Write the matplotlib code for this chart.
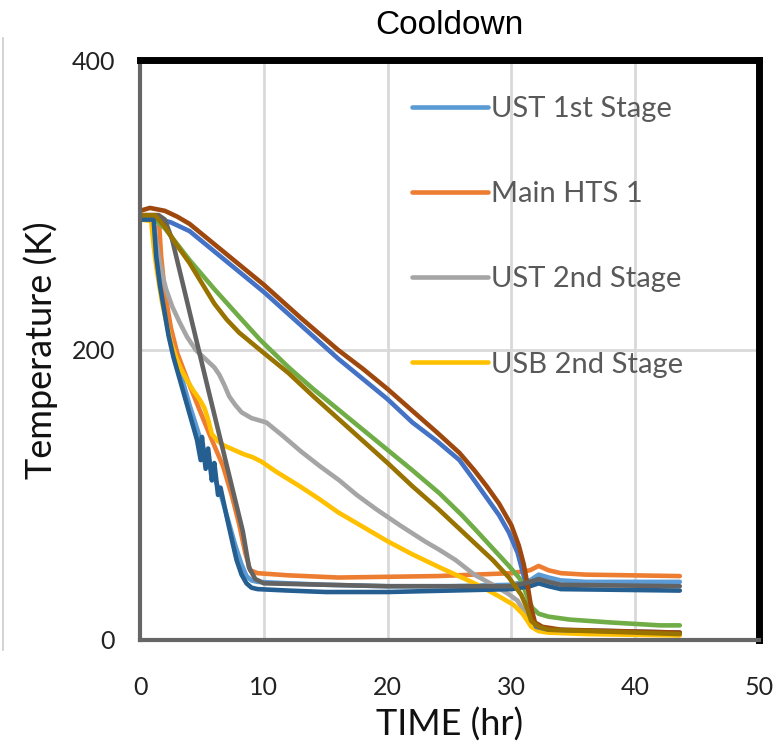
import matplotlib
matplotlib.use("Agg")
import matplotlib.pyplot as plt
from matplotlib.lines import Line2D

# time (hr) / temperature (K)
ust1_t = [0, 1.0, 1.3, 1.6, 2.0, 2.4, 2.9, 3.4, 4.0, 4.6, 5.1, 5.6, 6.1, 6.6, 7.2, 7.7, 8.2, 8.6, 9.0, 9.5, 12, 15, 20, 25, 30, 31.5, 32.2, 33.0, 34, 36, 43.6]
ust1_T = [290, 290, 268, 248, 228, 212, 195, 180, 162, 146, 132, 120, 110, 98, 80, 65, 52, 44, 41, 40, 39, 38, 37, 37, 38, 41, 45, 43, 41, 40, 40]

hts1_t = [0, 1.5, 1.7, 2.0, 2.5, 3.0, 3.8, 4.6, 5.6, 6.7, 7.4, 8.0, 8.5, 8.9, 9.5, 12, 16, 24, 30, 31.5, 32.2, 33, 34, 36, 43.6]
hts1_T = [293, 293, 265, 240, 215, 198, 180, 163, 142, 120, 100, 80, 60, 48, 46, 44.5, 43, 44, 46, 48, 51, 48, 46, 45, 44]

ust2_t = [0, 1.1, 1.3, 1.5, 1.8, 2.1, 2.6, 3.2, 3.8, 4.5, 5.0, 5.5, 6.0, 6.4, 6.8, 7.2, 7.7, 8.2, 9.0, 10.2, 11.5, 13, 14.5, 16.1, 17.5, 19.1, 21, 23, 24.2, 25.5, 27, 28.5, 29.7, 30.5, 31, 31.5, 32, 33, 35, 43.6]
ust2_T = [292, 290, 276, 265, 252, 242, 230, 219, 209, 200, 196, 192, 188, 183, 176, 168, 162, 157, 153, 150, 141, 130, 120, 110, 100, 90, 79, 68, 62, 55, 45, 38, 32, 27, 20, 14, 9, 6, 5.5, 5]

usb2_t = [0, 0.9, 1.1, 1.3, 1.6, 1.8, 2.2, 2.5, 3.0, 3.3, 3.8, 4.3, 4.8, 5.2, 5.5, 5.8, 6.3, 6.8, 7.6, 8.4, 9.1, 9.8, 11, 12.9, 14.5, 16, 18, 20, 22, 24.2, 26, 27.5, 29, 30.2, 30.9, 31.3, 31.6, 32.2, 33, 36, 43.6]
usb2_T = [290, 289, 272, 258, 242, 232, 216, 205, 193, 187, 179, 172, 166, 160, 152, 142, 137, 134, 131, 128, 126, 123, 116, 106, 97, 88, 78, 68, 59, 50, 43, 37, 30, 24, 18, 13, 9, 6, 5, 4, 3]

s5_t = [0, 1.2, 2.5, 4, 6, 8, 10, 13, 16, 18, 20, 22, 24, 25.8, 27, 28, 29, 29.8, 30.5, 31.0, 31.3, 31.6, 32, 33, 43.6]
s5_T = [291, 291, 288, 282, 268, 254, 240, 217, 194, 180, 166, 150, 137, 124, 110, 98, 86, 74, 60, 44, 30, 16, 9, 7, 5]

s6_t = [0, 1.2, 2, 3, 4, 6, 8, 9.7, 12, 14, 17, 20, 22, 24.2, 26, 27.1, 28.5, 29.8, 30.7, 31.1, 31.4, 31.7, 32.2, 33, 34.7, 38, 42, 43.6]
s6_T = [290, 290, 284, 273, 262, 242, 223, 207, 188, 173, 152, 131, 117, 101, 86, 76, 63, 51, 42, 34, 27, 22, 18, 16, 14, 12, 10, 10]

s7_t = [0, 1.1, 1.3, 1.6, 2.0, 2.3, 2.7, 3.2, 3.7, 4.2, 4.6, 4.9, 5.0, 5.3, 5.5, 5.8, 6.0, 6.3, 6.5, 7.0, 7.5, 7.8, 8.2, 8.6, 9.0, 9.5, 12, 15, 20, 25, 30, 31.5, 32.2, 33, 34, 43.6]
s7_T = [290, 290, 265, 245, 225, 210, 195, 180, 165, 150, 138, 124, 140, 118, 132, 110, 122, 100, 105, 85, 66, 55, 45, 39, 36, 35, 34, 33, 33, 34, 35, 37, 39, 37, 35, 34]

s8_t = [0, 0.8, 2, 3, 4, 6, 8, 10, 13, 16, 18, 20, 22, 24, 25.8, 27, 28, 29, 30, 30.6, 31, 31.3, 31.6, 31.9, 32.5, 34, 43.6]
s8_T = [296, 298, 296, 292, 287, 273, 259, 245, 222, 200, 187, 173, 158, 143, 129, 117, 106, 94, 79, 65, 52, 38, 22, 12, 9, 7, 5]

s9_t = [0, 1.5, 2.0, 2.6, 5.5, 8.3, 8.8, 9.3, 10, 20, 30, 31.5, 32.2, 33, 34, 43.6]
s9_T = [293, 293, 290, 276, 173, 75, 50, 42, 39, 37, 37, 40, 42, 40, 38, 37]

s10_t = [0, 1.2, 2, 3, 4, 5, 6, 7, 8, 9.7, 12, 14, 17, 20, 22, 24, 26, 28.5, 29.8, 30.8, 31.3, 31.6, 32.2, 33, 43.6]
s10_T = [293, 293, 285, 272, 260, 246, 232, 221, 212, 200, 184, 168, 145, 122, 106, 91, 75, 55, 43, 31, 21, 13, 9, 7, 4]

series = [
    (ust1_t, ust1_T, "UST 1st Stage", "#5B9BD5"),
    (hts1_t, hts1_T, "Main HTS 1", "#ED7D31"),
    (ust2_t, ust2_T, "UST 2nd Stage", "#A5A5A5"),
    (usb2_t, usb2_T, "USB 2nd Stage", "#FFC000"),
    (s5_t, s5_T, None, "#4472C4"),
    (s6_t, s6_T, None, "#70AD47"),
    (s7_t, s7_T, None, "#255E91"),
    (s8_t, s8_T, None, "#9E480E"),
    (s9_t, s9_T, None, "#636363"),
    (s10_t, s10_T, None, "#997300"),
]

plt.rcParams["font.family"] = ["Lato", "DejaVu Sans"]

fig = plt.figure(figsize=(7.78, 7.51), dpi=100)
ax = fig.add_axes([0.18, 0.148, 0.7956, 0.772])

handles = []
for t, T, name, col in series:
    ln, = ax.plot(t, T, color=col, lw=3.3, solid_capstyle="round", solid_joinstyle="round")
    if name:
        ln.set_label(name)
        handles.append(ln)

ax.set_xlim(0, 50)
ax.set_ylim(0, 400)
ax.set_xticks([0, 10, 20, 30, 40, 50])
ax.set_yticks([0, 200, 400])
ax.tick_params(length=0, labelsize=18, labelcolor="#222222")
ax.tick_params(axis="x", pad=26)
ax.tick_params(axis="y", pad=18)
ax.grid(True, color="#d9d9d9", lw=2)
ax.set_axisbelow(True)

for side in ["top", "right"]:
    ax.spines[side].set_linewidth(5)
    ax.spines[side].set_color("black")
for side in ["left", "bottom"]:
    ax.spines[side].set_linewidth(3)
    ax.spines[side].set_color("#666666")

ax.set_xlabel("TIME (hr)", fontsize=26, color="#111111", labelpad=6)
ax.set_ylabel("Temperature (K)", fontsize=26, color="#111111", labelpad=10)
ax.set_title("Cooldown", fontsize=24, pad=19,
             family=["Liberation Sans Narrow", "Liberation Sans", "DejaVu Sans"])

leg = ax.legend(handles=handles, loc="upper left", bbox_to_anchor=(0.44, 0.938),
                frameon=False, fontsize=21, handlelength=2.6, handletextpad=0.1,
                labelspacing=2.03, borderpad=0, borderaxespad=0)
for txt in leg.get_texts():
    txt.set_color("#595959")

# thin border line at the left edge of the image
fig.add_artist(Line2D([0.004, 0.004], [0.135, 0.95], color="#cccccc", lw=1.2))

fig.savefig("out.png", dpi=100)
